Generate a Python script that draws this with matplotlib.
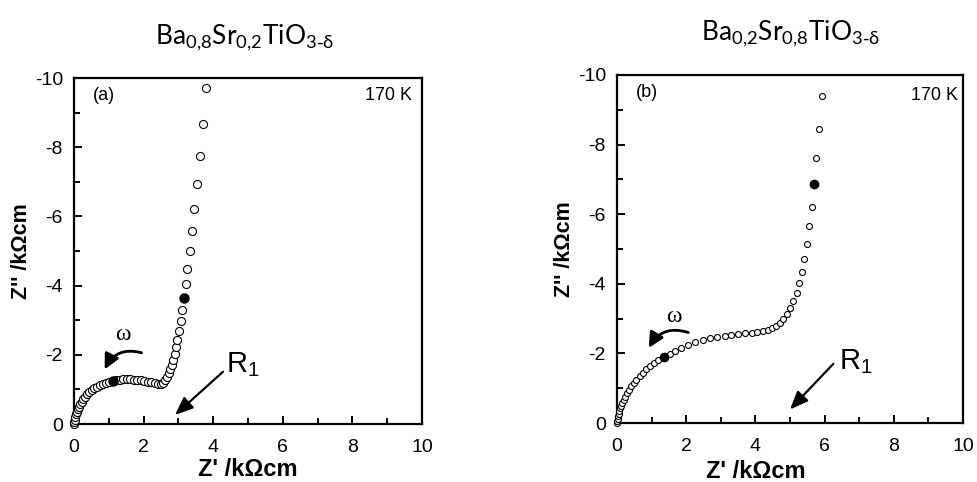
import matplotlib
matplotlib.use("Agg")
import matplotlib.pyplot as plt
from matplotlib.ticker import MultipleLocator

# Nyquist data (Z' and Z'' in kOhm cm)
a_re = [0.0, 0.01, 0.02, 0.04, 0.06, 0.08, 0.11, 0.14, 0.18, 0.22, 0.27, 0.32, 0.38, 0.44,
        0.51, 0.58, 0.66, 0.74, 0.83, 0.92, 1.01, 1.22, 1.32, 1.42, 1.52, 1.62, 1.72,
        1.82, 1.92, 2.02, 2.12, 2.22, 2.32, 2.41, 2.49, 2.56, 2.62, 2.67, 2.72, 2.77, 2.81,
        2.85, 2.89, 2.93, 2.97, 3.02, 3.07, 3.11, 3.21, 3.26, 3.32, 3.39, 3.46, 3.53, 3.61,
        3.70, 3.78]
a_im = [0.0, -0.06, -0.12, -0.2, -0.28, -0.35, -0.43, -0.5, -0.58, -0.65, -0.72, -0.79, -0.86, -0.92,
        -0.98, -1.03, -1.08, -1.12, -1.16, -1.19, -1.22, -1.26, -1.28, -1.29, -1.29, -1.29, -1.28,
        -1.27, -1.26, -1.24, -1.22, -1.20, -1.18, -1.16, -1.16, -1.19, -1.26, -1.36, -1.47, -1.59, -1.72,
        -1.86, -2.03, -2.22, -2.44, -2.69, -2.98, -3.29, -4.04, -4.48, -5.0, -5.57, -6.21, -6.94, -7.75,
        -8.67, -9.71]
a_fill_re = [1.12, 3.15]
a_fill_im = [-1.24, -3.64]

b_re = [0.0, 0.01, 0.02, 0.035, 0.05, 0.07, 0.09, 0.12, 0.15, 0.19, 0.23, 0.28, 0.34, 0.41,
        0.48, 0.56, 0.65, 0.74, 0.84, 0.95, 1.06, 1.19, 1.52, 1.67, 1.86, 2.05, 2.26, 2.48,
        2.69, 2.90, 3.11, 3.30, 3.51, 3.71, 3.90, 4.05, 4.23, 4.35, 4.48, 4.60, 4.71, 4.81,
        4.90, 5.00, 5.10, 5.19, 5.27, 5.35, 5.40, 5.48, 5.56, 5.63, 5.76, 5.85, 5.93]
b_im = [0.0, -0.06, -0.12, -0.2, -0.27, -0.34, -0.42, -0.5, -0.58, -0.67, -0.76, -0.85, -0.95, -1.05,
        -1.15, -1.25, -1.35, -1.45, -1.55, -1.64, -1.72, -1.80, -1.99, -2.07, -2.16, -2.24, -2.32, -2.39,
        -2.44, -2.48, -2.51, -2.53, -2.56, -2.58, -2.59, -2.61, -2.63, -2.67, -2.72, -2.79, -2.86, -2.98,
        -3.13, -3.30, -3.51, -3.74, -4.01, -4.34, -4.72, -5.15, -5.65, -6.22, -7.61, -8.45, -9.41]
b_fill_re = [1.36, 5.69]
b_fill_im = [-1.90, -6.86]

titles = [r"$\mathregular{Ba_{0{,}8}Sr_{0{,}2}TiO_{3\text{-}δ}}$",
          r"$\mathregular{Ba_{0{,}2}Sr_{0{,}8}TiO_{3\text{-}δ}}$"]
panel_tags = ["(a)", "(b)"]
temp_label = "170 K"

plt.rcParams["font.family"] = ["Liberation Sans", "DejaVu Sans"]
plt.rcParams["axes.unicode_minus"] = False

fig = plt.figure(figsize=(9.78, 4.82), dpi=100)
ax1 = fig.add_axes([0.0757, 0.1203, 0.3558, 0.7178])
ax2 = fig.add_axes([0.6309, 0.1224, 0.3538, 0.722])

panels = [
    (ax1, a_re, a_im, a_fill_re, a_fill_im, 5.8, 6.5),
    (ax2, b_re, b_im, b_fill_re, b_fill_im, 4.3, 6.0),
]
for i, (ax, xr, yi, fr, fi, ms, fms) in enumerate(panels):
    ax.plot(xr, yi, 'o', ls='none', mfc='white', mec='black', mew=0.8, ms=ms, clip_on=False, zorder=3)
    ax.plot(fr, fi, 'o', ls='none', mfc='black', mec='black', ms=fms, clip_on=False, zorder=4)
    ax.set_xlim(0, 10)
    ax.set_ylim(0, -10)
    ax.xaxis.set_major_locator(MultipleLocator(2))
    ax.xaxis.set_minor_locator(MultipleLocator(1))
    ax.yaxis.set_major_locator(MultipleLocator(2))
    ax.yaxis.set_minor_locator(MultipleLocator(1))
    ax.tick_params(which='both', direction='in', width=1.4, labelsize=14)
    ax.tick_params(axis='x', which='major', pad=11)
    ax.tick_params(axis='y', which='major', pad=8)
    ax.tick_params(which='major', length=6)
    ax.tick_params(which='minor', length=4)
    for s in ax.spines.values():
        s.set_linewidth(1.6)
    ax.set_xlabel("Z' /kΩcm", fontsize=17, fontweight='bold', labelpad=1)
    ax.set_ylabel("Z'' /kΩcm", fontsize=15.5, fontweight='bold', labelpad=2)
    ax.text(0.055, 0.95, panel_tags[i], transform=ax.transAxes, fontsize=13, va='center', ha='left')
    ax.text(0.97 if i == 0 else 0.985, 0.95 if i == 0 else 0.94, temp_label,
            transform=ax.transAxes, fontsize=13, va='center', ha='right')

ax2.xaxis.set_label_coords(0.40, -0.105)

omega_head = '-|>,head_length=0.9,head_width=0.45'
r1_head = '-|>,head_length=1.1,head_width=0.45'

# omega arrows and R1 arrows
ax1.text(1.41, -2.6, "ω", family="Liberation Serif", fontsize=17, ha='center', va='center')
ax1.annotate("", xy=(0.88, -1.58), xytext=(1.94, -2.06),
             arrowprops=dict(arrowstyle=omega_head, color='k', lw=2,
                             connectionstyle='arc3,rad=0.4', shrinkA=0, shrinkB=0))
ax1.text(4.85, -1.72, r"$\mathregular{R_1}$", fontsize=21, ha='center', va='center')
ax1.annotate("", xy=(2.9, -0.26), xytext=(4.28, -1.51),
             arrowprops=dict(arrowstyle=r1_head, color='k', lw=1.6, shrinkA=0, shrinkB=0))

ax2.text(1.63, -3.05, "ω", family="Liberation Serif", fontsize=17, ha='center', va='center')
ax2.annotate("", xy=(0.92, -2.16), xytext=(2.06, -2.6),
             arrowprops=dict(arrowstyle=omega_head, color='k', lw=2,
                             connectionstyle='arc3,rad=0.4', shrinkA=0, shrinkB=0))
ax2.text(6.9, -1.76, r"$\mathregular{R_1}$", fontsize=21, ha='center', va='center')
ax2.annotate("", xy=(5.0, -0.39), xytext=(6.25, -1.70),
             arrowprops=dict(arrowstyle=r1_head, color='k', lw=1.6, shrinkA=0, shrinkB=0))

fig.text(245 / 978, 1 - 38 / 482, titles[0], family="Lato", fontsize=19, ha='center', va='center')
fig.text(791 / 978, 1 - 34 / 482, titles[1], family="Lato", fontsize=19, ha='center', va='center')

fig.savefig("out.png", dpi=100)
